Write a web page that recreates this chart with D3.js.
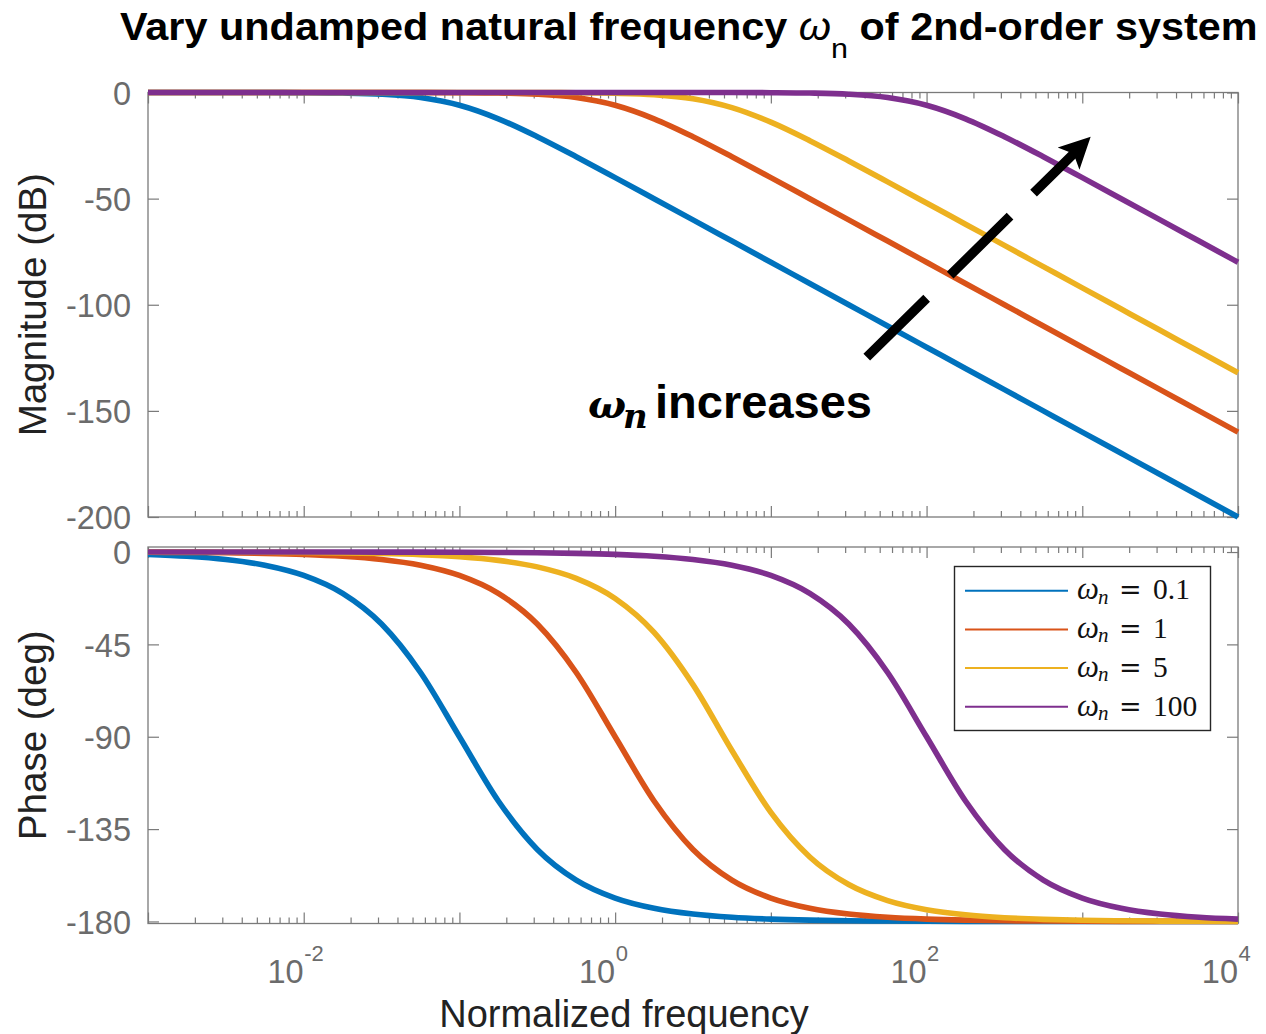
<!DOCTYPE html>
<html><head><meta charset="utf-8">
<script src="https://cdn.jsdelivr.net/npm/d3@7"></script>
<style>body{margin:0;background:#fff} svg{display:block}</style>
</head><body>
<svg id="chart" width="1266" height="1034"></svg>
<script>
// ---------- DATA ----------
const freqs = [0.001, 0.001778, 0.003162, 0.005623, 0.01, 0.01778, 0.03162, 0.05623,
  0.1, 0.1778, 0.3162, 0.5623, 1, 1.778, 3.162, 5.623, 10, 17.78, 31.62, 56.23,
  100, 177.8, 316.2, 562.3, 1000, 1778, 3162, 5623, 10000];
const wnValues = [0.1, 1, 5, 100];
const seriesLabels = ["0.1", "1", "5", "100"];

const magWn01 = [-0.0009, -0.0027, -0.0087, -0.0274, -0.0864, -0.270, -0.828, -2.386, -6.021,
  -12.39, -20.83, -30.27, -40.09, -50.03, -60.00, -70.00, -80.00, -90.00, -100.0, -110.0,
  -120.0, -130.0, -140.0, -150.0, -160.0, -170.0, -180.0, -190.0, -200.0];
const magWn1 = [0, 0, -0.0001, -0.0003, -0.0009, -0.0027, -0.0087, -0.0274, -0.0864, -0.270,
  -0.828, -2.386, -6.021, -12.39, -20.83, -30.27, -40.09, -50.03, -60.00, -70.00, -80.00,
  -90.00, -100.0, -110.0, -120.0, -130.0, -140.0, -150.0, -160.0];
const magWn5 = [0, 0, 0, 0, 0, -0.0001, -0.0003, -0.0011, -0.0035, -0.0110, -0.0347, -0.109,
  -0.341, -1.035, -2.923, -7.10, -13.98, -22.70, -32.26, -42.11, -52.06, -62.05, -72.04,
  -82.04, -92.04, -102.04, -112.04, -122.04, -132.04];
const magWn100 = [0, 0, 0, 0, 0, 0, 0, 0, 0, 0, -0.0001, -0.0003, -0.0009, -0.0027, -0.0087,
  -0.0274, -0.0864, -0.270, -0.828, -2.386, -6.021, -12.39, -20.83, -30.27, -40.09, -50.03,
  -60.00, -70.00, -80.00];

const phaseWn01 = [-1.146, -2.037, -3.622, -6.437, -11.42, -20.17, -35.10, -58.70, -90.00,
  -121.30, -144.90, -159.83, -168.58, -173.56, -176.38, -177.96, -178.85, -179.36, -179.64,
  -179.80, -179.89, -179.94, -179.96, -179.98, -179.99, -179.99, -180.00, -180.00, -180.00];
const phaseWn1 = [-0.115, -0.204, -0.362, -0.644, -1.146, -2.037, -3.622, -6.437, -11.42,
  -20.17, -35.10, -58.70, -90.00, -121.30, -144.90, -159.83, -168.58, -173.56, -176.38,
  -177.96, -178.85, -179.36, -179.64, -179.80, -179.89, -179.94, -179.96, -179.98, -179.99];
const phaseWn5 = [-0.023, -0.041, -0.072, -0.129, -0.229, -0.408, -0.725, -1.289, -2.292,
  -4.074, -7.238, -12.83, -22.62, -39.14, -64.62, -96.72, -126.87, -148.60, -162.03, -169.84,
  -174.28, -176.78, -178.19, -178.98, -179.43, -179.68, -179.82, -179.90, -179.94];
const phaseWn100 = [-0.0011, -0.0020, -0.0036, -0.0064, -0.0115, -0.0204, -0.0362, -0.0644,
  -0.115, -0.204, -0.362, -0.644, -1.146, -2.037, -3.622, -6.437, -11.42, -20.17, -35.10,
  -58.70, -90.00, -121.30, -144.90, -159.83, -168.58, -173.56, -176.38, -177.96, -178.85];

const magTicks = [0, -50, -100, -150, -200];
const phaseTicks = [0, -45, -90, -135, -180];
const xMajorExps = [-3, -2, -1, 0, 1, 2, 3, 4];
const xLabelExps = [-2, 0, 2, 4];
const xMinorMults = [2, 3, 4, 5, 6, 7, 8, 9];

// annotation anchors, in data units (frequency, dB)
const arrowStart = [41.3, -124.7];
const arrowTip = [1132, -20.9];
const noteAnchor = [0.67, -153.4];

// ---------- STYLE / LAYOUT ----------
const colors = ["#0072BD", "#D95319", "#EDB120", "#7E2F8E"];
const SANS = '"Liberation Sans", Arial, Helvetica, sans-serif';
const SERIF = '"Liberation Serif", "Times New Roman", serif';
const axisCol = "#7a7a7a", tickTextCol = "#6b6b6b", labelCol = "#222";
const L = 148, R = 1238;
const magTop = 92.5, magBot = 517, phTop = 547, phBot = 923.5;
const LW = 5.6;

const svg = d3.select("#chart");
const x = d3.scaleLog().domain([1e-3, 1e4]).range([L, R]);
const yMag = d3.scaleLinear().domain([-200, 0]).range([magBot, magTop]);
const yPh = d3.scaleLinear().domain([-181, 2.45]).range([phBot, phTop]);

const majorVals = xMajorExps.map(e => Math.pow(10, e));
const minorVals = [];
xMajorExps.slice(0, -1).forEach(e => xMinorMults.forEach(m => minorVals.push(m * Math.pow(10, e))));

function drawAxes(y, top, bot, ticks) {
  const g = svg.append("g");
  g.append("rect").attr("x", L).attr("y", top).attr("width", R - L).attr("height", bot - top)
    .attr("fill", "none").attr("stroke", axisCol).attr("stroke-width", 1.3);
  const styleAxis = sel => {
    sel.select(".domain").remove();
    sel.selectAll(".tick line").attr("stroke", axisCol).attr("stroke-width", 1.2);
  };
  g.append("g").attr("transform", `translate(0,${bot})`)
    .call(d3.axisBottom(x).tickValues(majorVals).tickSize(-11).tickFormat("")).call(styleAxis);
  g.append("g").attr("transform", `translate(0,${bot})`)
    .call(d3.axisBottom(x).tickValues(minorVals).tickSize(-6).tickFormat("")).call(styleAxis);
  g.append("g").attr("transform", `translate(0,${top})`)
    .call(d3.axisTop(x).tickValues(majorVals).tickSize(-11).tickFormat("")).call(styleAxis);
  g.append("g").attr("transform", `translate(0,${top})`)
    .call(d3.axisTop(x).tickValues(minorVals).tickSize(-6).tickFormat("")).call(styleAxis);
  const ay = g.append("g").attr("transform", `translate(${L},0)`)
    .call(d3.axisLeft(y).tickValues(ticks).tickSize(-11).tickPadding(17).tickFormat(d => String(d)))
    .call(styleAxis);
  ay.selectAll(".tick text").attr("font-family", SANS).attr("font-size", 32.5)
    .attr("fill", tickTextCol).attr("dy", "0.36em");
  g.append("g").attr("transform", `translate(${R},0)`)
    .call(d3.axisRight(y).tickValues(ticks).tickSize(-11).tickFormat("")).call(styleAxis);
}
drawAxes(yMag, magTop, magBot, magTicks);
drawAxes(yPh, phTop, phBot, phaseTicks);

// x tick labels (10^k) under phase plot
const xl = svg.append("g").attr("font-family", SANS).attr("fill", tickTextCol);
xLabelExps.forEach(e => {
  const px = x(Math.pow(10, e));
  xl.append("text").attr("x", px).attr("y", 983).attr("text-anchor", "end")
    .attr("font-size", 32.5).text("10");
  xl.append("text").attr("x", px + 0.5).attr("y", 961).attr("text-anchor", "start")
    .attr("font-size", 22).text(e < 0 ? "-" + Math.abs(e) : String(e));
});

// ---------- CURVES ----------
const magSeries = [magWn01, magWn1, magWn5, magWn100];
const phaseSeries = [phaseWn01, phaseWn1, phaseWn5, phaseWn100];
const lineMag = d3.line().x(d => x(d[0])).y(d => yMag(d[1])).curve(d3.curveMonotoneX);
const linePh = d3.line().x(d => x(d[0])).y(d => yPh(d[1])).curve(d3.curveMonotoneX);
magSeries.forEach((vals, i) => {
  svg.append("path").datum(freqs.map((f, j) => [f, vals[j]]))
    .attr("d", lineMag).attr("fill", "none").attr("stroke", colors[i])
    .attr("stroke-width", LW).attr("stroke-linejoin", "round");
});
phaseSeries.forEach((vals, i) => {
  svg.append("path").datum(freqs.map((f, j) => [f, vals[j]]))
    .attr("d", linePh).attr("fill", "none").attr("stroke", colors[i])
    .attr("stroke-width", LW).attr("stroke-linejoin", "round");
});

// ---------- AXIS LABELS / TITLE ----------
svg.append("text").attr("transform", `translate(46,${(magTop + magBot) / 2}) rotate(-90)`)
  .attr("text-anchor", "middle").attr("font-family", SANS).attr("font-size", 38.5)
  .attr("fill", labelCol).text("Magnitude (dB)");
svg.append("text").attr("transform", `translate(46,${(phTop + phBot) / 2}) rotate(-90)`)
  .attr("text-anchor", "middle").attr("font-family", SANS).attr("font-size", 38.5)
  .attr("fill", labelCol).text("Phase (deg)");
svg.append("text").attr("x", 624).attr("y", 1027).attr("text-anchor", "middle")
  .attr("font-family", SANS).attr("font-size", 38).attr("fill", labelCol)
  .text("Normalized frequency");

const title = svg.append("text").attr("x", 0).attr("y", 40)
  .attr("font-family", SANS).attr("font-size", 38).attr("fill", "#000");
title.append("tspan").attr("font-weight", "bold").text("Vary undamped natural frequency ");
title.append("tspan").attr("font-style", "italic").text("ω");
title.append("tspan").attr("font-size", 28).attr("dy", 18).text("n");
title.append("tspan").attr("font-weight", "bold").attr("dy", -18).text(" of 2nd-order system");
const tb = title.node().getBBox();
title.attr("transform", `translate(120,0) scale(${(1258 - 120) / tb.width},1) translate(${-tb.x},0)`);

// ---------- LEGEND ----------
const lg = svg.append("g");
lg.append("rect").attr("x", 954.5).attr("y", 566.5).attr("width", 256).attr("height", 164)
  .attr("fill", "#fff").attr("stroke", "#262626").attr("stroke-width", 1.4);
wnValues.forEach((wn, i) => {
  const ry = 590.7 + i * 38.7;
  lg.append("line").attr("x1", 965).attr("x2", 1068).attr("y1", ry).attr("y2", ry)
    .attr("stroke", colors[i]).attr("stroke-width", 2);
  lg.append("text").attr("x", 1077).attr("y", ry + 8.7).attr("font-family", SERIF)
    .attr("font-style", "italic").attr("font-size", 31).attr("fill", "#111").text("ω");
  lg.append("text").attr("x", 1098).attr("y", ry + 13).attr("font-family", SERIF)
    .attr("font-style", "italic").attr("font-size", 21).attr("fill", "#111").text("n");
  lg.append("text").attr("x", 1119).attr("y", ry + 8.7).attr("font-family", '"DejaVu Serif", serif')
    .attr("font-size", 27).attr("fill", "#111").text("=");
  lg.append("text").attr("x", 1153).attr("y", ry + 8.7).attr("font-family", SERIF)
    .attr("font-size", 29.5).attr("fill", "#111").text(seriesLabels[i]);
});

// ---------- ANNOTATION ARROW ----------
const p0 = [x(arrowStart[0]), yMag(arrowStart[1])];
const p1 = [x(arrowTip[0]), yMag(arrowTip[1])];
const dx = p1[0] - p0[0], dy = p1[1] - p0[1], len = Math.hypot(dx, dy);
const ux = dx / len, uy = dy / len, nx = -uy, ny = ux;
const headLen = 31, headHalf = 15.5, notch = 7;
const base = [p1[0] - ux * headLen, p1[1] - uy * headLen];
const notchPt = [base[0] + ux * notch, base[1] + uy * notch];
svg.append("line").attr("x1", p0[0]).attr("y1", p0[1])
  .attr("x2", notchPt[0] + ux * 2).attr("y2", notchPt[1] + uy * 2)
  .attr("stroke", "#000").attr("stroke-width", 9.5).attr("stroke-dasharray", "84,33");
svg.append("path").attr("d", `M${p1[0]},${p1[1]} L${base[0] + nx * headHalf},${base[1] + ny * headHalf} L${notchPt[0]},${notchPt[1]} L${base[0] - nx * headHalf},${base[1] - ny * headHalf} Z`)
  .attr("fill", "#000");

const ax = x(noteAnchor[0]), ayy = yMag(noteAnchor[1]);
svg.append("text").attr("x", ax).attr("y", ayy).attr("font-family", '"DejaVu Serif", serif')
  .attr("font-weight", "bold").attr("font-style", "italic").attr("font-size", 40).attr("fill", "#000").text("ω");
svg.append("text").attr("x", ax + 35).attr("y", ayy + 10).attr("font-family", '"DejaVu Serif", serif')
  .attr("font-weight", "bold").attr("font-style", "italic").attr("font-size", 34).attr("fill", "#000").text("n");
svg.append("text").attr("x", ax + 67).attr("y", ayy).attr("font-family", SANS)
  .attr("font-weight", "bold").attr("font-size", 47).attr("fill", "#000").text("increases");
</script>
</body></html>
